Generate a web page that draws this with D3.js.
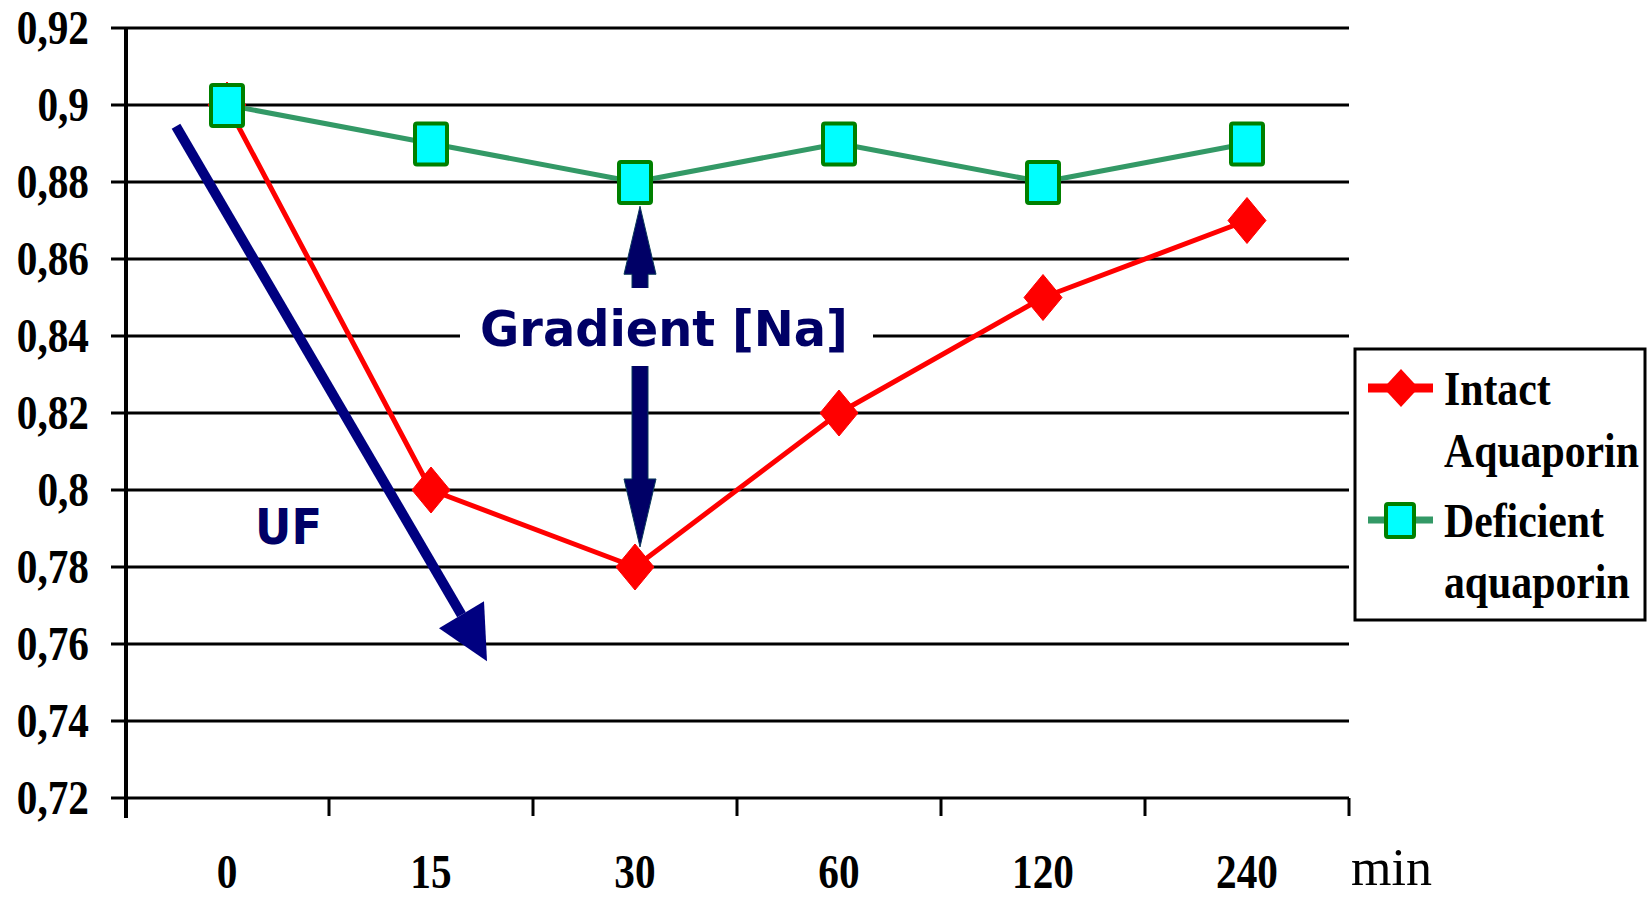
<!DOCTYPE html>
<html>
<head>
<meta charset="utf-8">
<script src="https://cdn.jsdelivr.net/npm/d3@7"></script>
<style>
  html, body { margin: 0; padding: 0; background: #fff; }
  svg { display: block; }
</style>
</head>
<body>
<div id="chart"></div>
<script>
// data
const categories = ["0", "15", "30", "60", "120", "240"];
const intact = [0.9, 0.8, 0.78, 0.82, 0.85, 0.87];
const deficient = [0.9, 0.89, 0.88, 0.89, 0.88, 0.89];
const yTicks = [0.72, 0.74, 0.76, 0.78, 0.8, 0.82, 0.84, 0.86, 0.88, 0.9, 0.92];
const yTickLabels = ["0,72", "0,74", "0,76", "0,78", "0,8", "0,82", "0,84", "0,86", "0,88", "0,9", "0,92"];
const seriesNames = [["Intact", "Aquaporin"], ["Deficient", "aquaporin"]];

const W = 1648, H = 899;
const serif = "'Liberation Serif', 'Times New Roman', serif";
const sans = "'DejaVu Sans', Verdana, sans-serif";
const navy = "#000066";
const squeeze = 0.86;

const svg = d3.select("#chart").append("svg")
  .attr("width", W).attr("height", H);

const x = d3.scaleBand().domain(categories).range([125, 1349]).padding(0);
const y = d3.scaleLinear().domain([0.72, 0.92]).range([798, 28]);
const cx = c => x(c) + x.bandwidth() / 2;

// grid lines
svg.append("g").selectAll("line").data(yTicks).join("line")
  .attr("x1", 111).attr("x2", x.range()[1])
  .attr("y1", d => y(d)).attr("y2", d => y(d))
  .attr("stroke", "#000").attr("stroke-width", 3.2);

// y axis
svg.append("line")
  .attr("x1", x.range()[0] + 1).attr("x2", x.range()[0] + 1)
  .attr("y1", y(0.92)).attr("y2", y(0.72) + 20)
  .attr("stroke", "#000").attr("stroke-width", 4);

// x ticks at category edges
svg.append("g").selectAll("line").data(categories).join("line")
  .attr("x1", d => x(d) + x.bandwidth()).attr("x2", d => x(d) + x.bandwidth())
  .attr("y1", y(0.72)).attr("y2", y(0.72) + 18)
  .attr("stroke", "#000").attr("stroke-width", 3);

// y labels
svg.append("g").selectAll("text").data(yTicks).join("text")
  .attr("transform", d => `translate(89,${y(d) + 16}) scale(${squeeze},1)`)
  .attr("text-anchor", "end")
  .style("font-family", serif).style("font-weight", "bold").style("font-size", "48px")
  .text((d, i) => yTickLabels[i]);

// x labels
svg.append("g").selectAll("text").data(categories).join("text")
  .attr("transform", d => `translate(${cx(d)},888) scale(${squeeze},1)`)
  .attr("text-anchor", "middle")
  .style("font-family", serif).style("font-weight", "bold").style("font-size", "48px")
  .text(d => d);

svg.append("text")
  .attr("x", 1351).attr("y", 885)
  .style("font-family", serif).style("font-size", "52px")
  .text("min");

// Gradient [Na] double arrow (drawn before its white label box)
const gx = cx("30") + 5;
const gTop = y(0.8737), gBot = y(0.7852);
const head = 68, hw = 16, sw = 8;
svg.append("path")
  .attr("d", `M${gx},${gTop} L${gx + hw},${gTop + head} L${gx + sw},${gTop + head}
              L${gx + sw},${gBot - head} L${gx + hw},${gBot - head} L${gx},${gBot}
              L${gx - hw},${gBot - head} L${gx - sw},${gBot - head} L${gx - sw},${gTop + head}
              L${gx - hw},${gTop + head} Z`)
  .attr("fill", navy).attr("stroke", "#0b3a5a").attr("stroke-width", 1);

svg.append("rect")
  .attr("x", 460).attr("y", 288).attr("width", 413).attr("height", 78)
  .attr("fill", "#fff");

svg.append("text")
  .attr("x", 664).attr("y", 346)
  .attr("text-anchor", "middle")
  .attr("textLength", 368).attr("lengthAdjust", "spacingAndGlyphs")
  .style("font-family", sans).style("font-weight", "bold").style("font-size", "49px")
  .attr("fill", navy)
  .text("Gradient [Na]");

// UF arrow
const uStart = [cx("0") - 51, y(0.8945)];
const uTip = [cx("15") + 56, y(0.7555)];
const uLeft = [cx("15") + 8, y(0.7641)];
const uRight = [cx("15") + 53, y(0.7711)];
const uBase = [(uLeft[0] + uRight[0]) / 2, (uLeft[1] + uRight[1]) / 2];
svg.append("line")
  .attr("x1", uStart[0]).attr("y1", uStart[1])
  .attr("x2", uBase[0]).attr("y2", uBase[1])
  .attr("stroke", "#000080").attr("stroke-width", 10);
svg.append("path")
  .attr("d", `M${uTip} L${uLeft} L${uRight} Z`)
  .attr("fill", "#000080");

svg.append("text")
  .attr("x", 255).attr("y", 544)
  .attr("textLength", 67).attr("lengthAdjust", "spacingAndGlyphs")
  .style("font-family", sans).style("font-weight", "bold").style("font-size", "49px")
  .attr("fill", navy)
  .text("UF");

// series
const line = d3.line().x((d, i) => cx(categories[i])).y(d => y(d));
const diamond = (w, h) => `M0,${-h / 2} L${w / 2},0 L0,${h / 2} L${-w / 2},0 Z`;

svg.append("path").datum(intact)
  .attr("d", line).attr("fill", "none")
  .attr("stroke", "#ff0000").attr("stroke-width", 5).attr("stroke-linejoin", "round");
svg.append("g").selectAll("path").data(intact).join("path")
  .attr("transform", (d, i) => `translate(${cx(categories[i])},${y(d)})`)
  .attr("d", diamond(38, 46))
  .attr("fill", "#ff0000").attr("stroke", "#ff0000").attr("stroke-width", 1)
  .attr("stroke-linejoin", "round");

svg.append("path").datum(deficient)
  .attr("d", line).attr("fill", "none")
  .attr("stroke", "#339966").attr("stroke-width", 5).attr("stroke-linejoin", "round");
svg.append("g").selectAll("rect").data(deficient).join("rect")
  .attr("x", (d, i) => cx(categories[i]) - 16)
  .attr("y", d => y(d) - 20)
  .attr("width", 32).attr("height", 41).attr("rx", 2)
  .attr("fill", "#00ffff").attr("stroke", "#008000").attr("stroke-width", 4);

// legend
const lg = svg.append("g");
lg.append("rect")
  .attr("x", 1355).attr("y", 349).attr("width", 290).attr("height", 271)
  .attr("fill", "#fff").attr("stroke", "#000").attr("stroke-width", 3);
lg.append("line").attr("x1", 1368).attr("x2", 1433).attr("y1", 388).attr("y2", 388)
  .attr("stroke", "#ff0000").attr("stroke-width", 9);
lg.append("path").attr("transform", "translate(1401,388)").attr("d", diamond(35, 38))
  .attr("fill", "#ff0000");
lg.append("line").attr("x1", 1368).attr("x2", 1433).attr("y1", 520).attr("y2", 520)
  .attr("stroke", "#339966").attr("stroke-width", 7);
lg.append("rect").attr("x", 1386).attr("y", 504).attr("width", 28).attr("height", 33).attr("rx", 2)
  .attr("fill", "#00ffff").attr("stroke", "#008000").attr("stroke-width", 4);

const legendLines = [
  [seriesNames[0][0], 405], [seriesNames[0][1], 467],
  [seriesNames[1][0], 537], [seriesNames[1][1], 598]
];
lg.selectAll("text.lbl").data(legendLines).join("text")
  .attr("class", "lbl")
  .attr("transform", d => `translate(1444,${d[1]}) scale(0.87,1)`)
  .style("font-family", serif).style("font-weight", "bold").style("font-size", "48px")
  .text(d => d[0]);
</script>
</body>
</html>
